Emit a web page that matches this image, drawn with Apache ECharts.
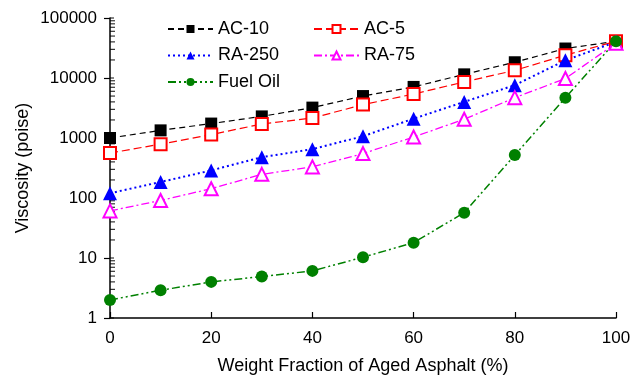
<!DOCTYPE html>
<html>
<head>
<meta charset="utf-8">
<script src="https://cdn.jsdelivr.net/npm/echarts@6/dist/echarts.min.js"></script>
<style>
  html, body { margin: 0; padding: 0; background: #fff; }
  #chart { width: 640px; height: 376px; }
</style>
</head>
<body>
<div id="chart"></div>
<script>
// Weight fraction of aged asphalt (%)
const fractions = [0, 10, 20, 30, 40, 50, 60, 70, 80, 90, 100]

// Viscosity (poise)
const ac10 = [1000, 1340, 1740, 2290, 3210, 5000, 7100, 11500, 18300, 31000, 41000]
const ac5 = [560, 790, 1140, 1710, 2150, 3600, 5400, 8600, 13400, 24000, 41000]
const ra250 = [120, 185, 288, 480, 650, 1070, 2100, 4000, 7600, 19700, 40000]
const ra75 = [61, 91, 143, 248, 330, 550, 1040, 2050, 4700, 9800, 38000]
const fuelOil = [2, 2.9, 4.0, 4.9, 6.1, 10.3, 18, 57, 520, 4700, 41000]

const xTicks = [0, 20, 40, 60, 80, 100]
const yTicks = [1, 10, 100, 1000, 10000, 100000]
const yMinorTicks = [2, 3, 4, 5, 6, 7, 8, 9,
  20, 30, 40, 50, 60, 70, 80, 90,
  200, 300, 400, 500, 600, 700, 800, 900,
  2000, 3000, 4000, 5000, 6000, 7000, 8000, 9000,
  20000, 30000, 40000, 50000, 60000, 70000, 80000, 90000]

const font = '"Liberation Sans", Arial, Helvetica, sans-serif'

const pairs = (ys) => fractions.map((x, i) => [x, ys[i]])

const chart = echarts.init(document.getElementById('chart'), null, { renderer: 'canvas' })

const legendBase = {
  orient: 'vertical',
  itemWidth: 45,
  itemHeight: 10,
  itemGap: 8.5,
  textStyle: { fontFamily: font, fontSize: 18, color: '#000' }
}

function lineSeries(name, ys, color, symbol, size, dash, width) {
  return {
    name: name,
    type: 'line',
    data: pairs(ys),
    symbol: symbol,
    symbolSize: size,
    showAllSymbol: true,
    itemStyle: { color: color, borderWidth: 1.5 },
    lineStyle: { color: color, width: width, type: dash },
    emphasis: { disabled: true },
    animation: false
  }
}

// tick marks on the inner side of the log axis, placed through the axis scale
function tickSeries(values, len, offset) {
  return {
    type: 'scatter',
    data: values.map((v) => [0, v]),
    symbol: 'rect',
    symbolSize: [len, 1.2],
    symbolOffset: [offset, 0],
    itemStyle: { color: '#000' },
    clip: false,
    silent: true,
    z: 1,
    animation: false
  }
}

chart.setOption({
  backgroundColor: '#fff',
  animation: false,
  grid: { left: 110, right: 24, top: 18, bottom: 58, containLabel: false, outerBoundsMode: 'none' },
  legend: [
    Object.assign({}, legendBase, { left: 162, top: 15, data: ['AC-10', 'RA-250', 'Fuel Oil'] }),
    Object.assign({}, legendBase, { left: 308, top: 15, data: ['AC-5', 'RA-75'] })
  ],
  xAxis: {
    type: 'value',
    min: 0,
    max: 100,
    interval: 20,
    name: 'Weight Fraction of Aged Asphalt (%)',
    nameLocation: 'middle',
    nameGap: 39,
    nameMoveOverlap: false,
    nameTextStyle: { fontFamily: font, fontSize: 18, color: '#000' },
    axisLine: { lineStyle: { color: '#000', width: 1.5 } },
    axisTick: { inside: true, length: 6, lineStyle: { color: '#000', width: 1.2 } },
    axisLabel: {
      fontFamily: font, fontSize: 17, color: '#000', margin: 12,
      formatter: (v) => xTicks.includes(v) ? String(v) : ''
    },
    splitLine: { show: false }
  },
  yAxis: {
    type: 'log',
    logBase: 10,
    min: 1,
    max: 100000,
    name: 'Viscosity (poise)',
    nameLocation: 'middle',
    nameGap: 78,
    nameMoveOverlap: false,
    nameTextStyle: { fontFamily: font, fontSize: 18, color: '#000' },
    axisLine: { lineStyle: { color: '#000', width: 1.5 } },
    axisTick: { inside: false, length: 6, lineStyle: { color: '#000', width: 1.2 } },
    axisLabel: {
      fontFamily: font, fontSize: 17, color: '#000', margin: 13,
      formatter: (v) => yTicks.includes(Math.round(v)) ? String(Math.round(v)) : ''
    },
    splitLine: { show: false }
  },
  series: [
    tickSeries(yTicks, 4, 2),
    tickSeries(yMinorTicks, 5, 2.5),
    lineSeries('AC-10', ac10, '#000000', 'rect', 12, [6, 4], 1.2),
    lineSeries('AC-5', ac5, '#ff0000', 'emptyRect', 12, [8, 4], 1.2),
    lineSeries('RA-250', ra250, '#0000ff', 'triangle', 14, [2, 3], 2),
    lineSeries('RA-75', ra75, '#ff00ff', 'emptyTriangle', 13, [8, 3, 2, 3], 1.3),
    lineSeries('Fuel Oil', fuelOil, '#008000', 'circle', 12, [8, 3, 2, 3, 2, 3], 1.5)
  ]
})
</script>
</body>
</html>
